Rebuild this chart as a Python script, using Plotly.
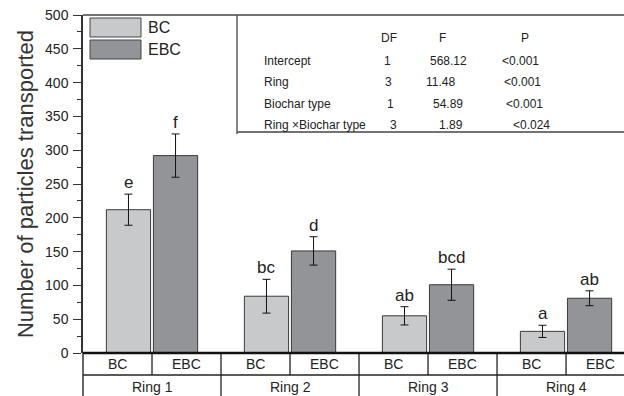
import plotly.graph_objects as go

# ---- data ----
rings = ["Ring 1", "Ring 2", "Ring 3", "Ring 4"]
types = ["BC", "EBC"]
bc_values = [212, 84, 55, 32]
bc_errors = [23, 25, 13.5, 9]
ebc_values = [292, 151, 101, 81]
ebc_errors = [32, 21, 23, 11]
bc_letters = ["e", "bc", "ab", "a"]
ebc_letters = ["f", "d", "bcd", "ab"]
y_ticks = [0, 50, 100, 150, 200, 250, 300, 350, 400, 450, 500]

anova_header = ["DF", "F", "P"]
anova_terms = ["Intercept", "Ring", "Biochar type", "Ring \u00d7Biochar type"]
anova_df = ["1", "3", "1", "3"]
anova_f = ["568.12", "11.48", "54.89", "1.89"]
anova_p = ["<0.001", "<0.001", "<0.001", "<0.024"]

# ---- styling / layout constants ----
W, H = 624, 396
ML, MT, MB = 83, 15, 43
PW, PH = W - ML, H - MT - MB
BC_COLOR = "#c8c9cb"
EBC_COLOR = "#939497"
TXT = "#222222"
FONT = "Liberation Sans, Arial, sans-serif"
BARGAP = 0.318
BARGROUPGAP = 0.06


def px_x(px):
    return (px - ML) / PW


def px_y(py):
    return (H - MB - py) / PH


fig = go.Figure()
fig.add_trace(go.Bar(
    x=rings, y=bc_values, name="BC", marker=dict(color=BC_COLOR, line=dict(color="#3a3a3a", width=1)),
    error_y=dict(type="data", array=bc_errors, color="#111", thickness=1, width=4),
    showlegend=False,
))
fig.add_trace(go.Bar(
    x=rings, y=ebc_values, name="EBC", marker=dict(color=EBC_COLOR, line=dict(color="#3a3a3a", width=1)),
    error_y=dict(type="data", array=ebc_errors, color="#111", thickness=1, width=4),
    showlegend=False,
))

slot = (1 - BARGAP) / 2
annotations = []
shapes = []
# significance letters
for i in range(len(rings)):
    for off, vals, errs, letters in ((-slot / 2, bc_values, bc_errors, bc_letters),
                                      (slot / 2, ebc_values, ebc_errors, ebc_letters)):
        annotations.append(dict(x=i + off, y=vals[i] + errs[i], xref="x", yref="y", text=letters[i],
                                showarrow=False, yanchor="bottom", yshift=0,
                                font=dict(size=17, color=TXT, family=FONT)))

# category table below axis
row1_y = px_y(375)
bottom_y = px_y(400)
for i, r in enumerate(rings):
    for k, t in enumerate(types):
        annotations.append(dict(x=i - 0.25 + 0.5 * k, y=px_y(364), xref="x", yref="paper", text=t,
                                showarrow=False, yanchor="middle", xanchor="center",
                                font=dict(size=14, color=TXT, family=FONT)))
    annotations.append(dict(x=i, y=px_y(386.5), xref="x", yref="paper", text=r,
                            showarrow=False, yanchor="middle", xanchor="center",
                            font=dict(size=14, color=TXT, family=FONT)))
    # sub separator (row 1 only)
    shapes.append(dict(type="line", xref="x", yref="paper", x0=i, x1=i, y0=0, y1=row1_y,
                       line=dict(color="#222", width=1.3)))
    if i < len(rings) - 1:
        shapes.append(dict(type="line", xref="x", yref="paper", x0=i + 0.5, x1=i + 0.5, y0=0, y1=bottom_y,
                           line=dict(color="#222", width=1.3)))
shapes.append(dict(type="line", xref="paper", yref="paper", x0=0, x1=1.01, y0=row1_y, y1=row1_y,
                   line=dict(color="#222", width=1.5)))
# y axis extension into table
shapes.append(dict(type="line", xref="paper", yref="paper", x0=0, x1=0, y0=0, y1=bottom_y,
                   line=dict(color="#333", width=1.5)))
# top frame line
shapes.append(dict(type="line", xref="paper", yref="paper", x0=0, x1=1.01, y0=1, y1=1,
                   line=dict(color="#444", width=1.5)))
# thick x axis line
shapes.append(dict(type="line", xref="paper", yref="paper", x0=0, x1=1.01, y0=0, y1=0,
                   line=dict(color="#111", width=2.5)))

# ANOVA box
box_left = px_x(237)
box_bottom = px_y(132)
shapes.append(dict(type="line", xref="paper", yref="paper", x0=box_left, x1=box_left, y0=px_y(134), y1=1,
                   line=dict(color="#444", width=1.3)))
shapes.append(dict(type="line", xref="paper", yref="paper", x0=box_left, x1=1.01, y0=box_bottom, y1=box_bottom,
                   line=dict(color="#444", width=1.3)))

tfont = dict(size=12, color=TXT, family=FONT)
header_x = [389, 442, 525]
row_y = [61, 82, 104, 125]
df_x = [387, 388, 390, 393]
f_x = [448, 440, 448, 451]
p_x = [520, 522, 524, 531]
for h, hx in zip(anova_header, header_x):
    annotations.append(dict(x=px_x(hx), y=px_y(38), xref="paper", yref="paper", text=h, showarrow=False,
                            xanchor="center", yanchor="middle", font=tfont))
for j in range(len(anova_terms)):
    yy = px_y(row_y[j])
    annotations.append(dict(x=px_x(262), y=yy, xref="paper", yref="paper", text=anova_terms[j],
                            showarrow=False, xanchor="left", yanchor="middle", font=tfont))
    for txt, cx in ((anova_df[j], df_x[j]), (anova_f[j], f_x[j]), (anova_p[j], p_x[j])):
        annotations.append(dict(x=px_x(cx), y=yy, xref="paper", yref="paper", text=txt,
                                showarrow=False, xanchor="center", yanchor="middle", font=tfont))

# legend drawn manually
leg = [("BC", BC_COLOR, 18, 37), ("EBC", EBC_COLOR, 40, 59)]
for name, col, y0, y1 in leg:
    shapes.append(dict(type="rect", xref="paper", yref="paper", x0=px_x(90), x1=px_x(141),
                       y0=px_y(y1), y1=px_y(y0), fillcolor=col, line=dict(color="#444", width=1)))
    annotations.append(dict(x=px_x(146), y=px_y((y0 + y1) / 2), xref="paper", yref="paper", text=name,
                            showarrow=False, xanchor="left", yanchor="middle",
                            font=dict(size=16, color=TXT, family=FONT)))

fig.update_layout(
    width=W, height=H,
    margin=dict(l=ML, r=0, t=MT, b=MB, pad=0),
    paper_bgcolor="white", plot_bgcolor="white",
    barmode="group", bargap=BARGAP, bargroupgap=BARGROUPGAP,
    font=dict(family=FONT, color=TXT),
    shapes=shapes, annotations=annotations,
    showlegend=False,
)
fig.update_xaxes(range=[-0.5, 3.42], showticklabels=False, ticks="", showline=False, showgrid=False,
                 zeroline=False, fixedrange=True)
fig.update_yaxes(range=[0, 500], tickvals=y_ticks, ticks="outside", ticklen=8, tickwidth=1.2, tickcolor="#333",
                 showline=True, linecolor="#333", linewidth=1.5, showgrid=False, zeroline=False,
                 tickfont=dict(size=14, color=TXT, family=FONT), ticklabelstandoff=2,
                 minor=dict(dtick=25, ticks="outside", ticklen=4, tickcolor="#333", tickwidth=1.2, showgrid=False),
                 title=dict(text="Number of particles transported", font=dict(size=22, color="#333", family=FONT),
                            standoff=5),
                 fixedrange=True)

fig.write_html("out.html")
